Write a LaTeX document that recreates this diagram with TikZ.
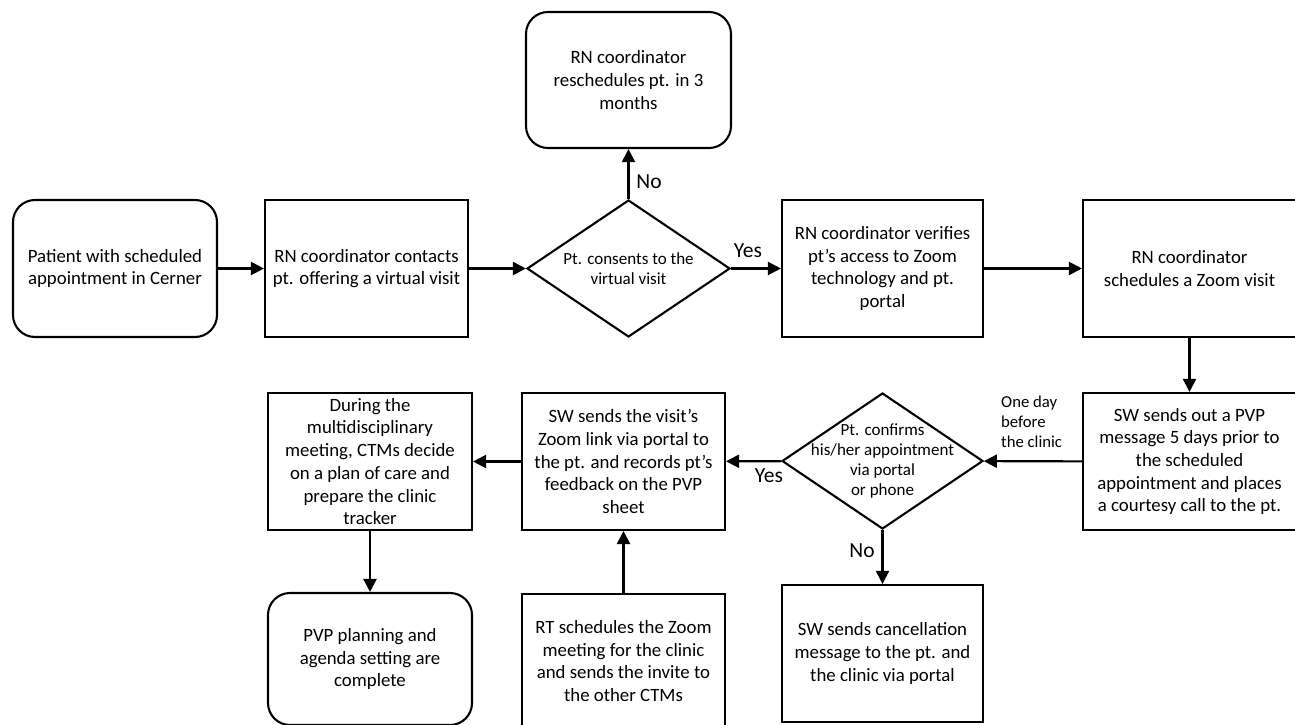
\documentclass[tikz,border=0pt]{standalone}
\usepackage{fontspec}
\setmainfont{Carlito}
\usetikzlibrary{shapes.geometric,arrows.meta}
\begin{document}
\begin{tikzpicture}[x=1pt,y=-1pt,
  every node/.style={inner sep=2pt},
  box/.style={draw, line width=2.1pt, align=center, font=\fontsize{18.8}{22.7}\selectfont},
  rbox/.style={box, rounded corners=22pt},
  dia/.style={draw, diamond, line width=2.1pt, inner sep=0pt, minimum width=203pt, minimum height=137pt},
  dtext/.style={align=center, font=\fontsize{17}{20.3}\selectfont},
  lbl/.style={font=\fontsize{21.5}{24}\selectfont},
  small/.style={align=left, font=\fontsize{16.7}{20}\selectfont},
  arr/.style={line width=2.1pt, -{Triangle[length=13pt,width=13pt]}}
]
\useasboundingbox (0,0) rectangle (1295,725);

\node[rbox, minimum width=204pt, minimum height=137pt] (start) at (115,268.5)
  {Patient with scheduled\\appointment in Cerner};
\node[box, minimum width=203pt, minimum height=137pt] (contact) at (366.5,268.5)
  {RN coordinator contacts\\pt. offering a virtual visit};
\node[dia] (d1) at (628.5,268.5) {};
\node[dtext] (d1t) at (628.5,268.5) {Pt. consents to the\\virtual visit};
\node[rbox, minimum width=205pt, minimum height=136pt] (resched) at (628.5,80)
  {RN coordinator\\reschedules pt. in 3\\months};
\node[box, minimum width=201pt, minimum height=137pt] (verify) at (882.5,268.5)
  {RN coordinator verifies\\pt’s access to Zoom\\technology and pt.\\portal};
\node[box, minimum width=213pt, minimum height=137pt] (zoomvisit) at (1189.5,268.5)
  {RN coordinator\\schedules a Zoom visit};
\node[box, minimum width=213pt, minimum height=137pt] (pvpmsg) at (1189.5,461.5)
  {SW sends out a PVP\\message 5 days prior to\\the scheduled\\appointment and places\\a courtesy call to the pt.};
\node[dia, minimum width=201pt, minimum height=136pt] (d2) at (882.5,461) {};
\node[dtext] (d2t) at (882.5,461) {Pt. confirms\\his/her appointment\\via portal\\or phone};
\node[box, minimum width=201pt, minimum height=137pt] (cancel) at (882.5,653.5)
  {SW sends cancellation\\message to the pt. and\\the clinic via portal};
\node[box, minimum width=203pt, minimum height=137pt] (swlink) at (623.5,461.5)
  {SW sends the visit’s\\Zoom link via portal to\\the pt. and records pt’s\\feedback on the PVP\\sheet};
\node[box, inner sep=1pt, minimum width=204pt, minimum height=137pt] (during) at (370,461.5)
  {During the\\multidisciplinary\\meeting, CTMs decide\\on a plan of care and\\prepare the clinic\\tracker};
\node[rbox, minimum width=204pt, minimum height=132pt] (done) at (370,659)
  {PVP planning and\\agenda setting are\\complete};
\node[box, minimum width=203pt, minimum height=134pt] (rt) at (623.5,661)
  {RT schedules the Zoom\\meeting for the clinic\\and sends the invite to\\the other CTMs};

\draw[arr] (start) -- (contact);
\draw[arr] (contact) -- (d1);
\draw[arr] (d1) -- (resched);
\draw[arr] (d1) -- (verify);
\draw[arr] (verify) -- (zoomvisit);
\draw[arr] (zoomvisit) -- (pvpmsg);
\draw[arr] (pvpmsg) -- (d2);
\draw[arr] (d2) -- (swlink);
\draw[arr] (d2) -- (cancel);
\draw[arr] (swlink) -- (during);
\draw[arr] (during) -- (done);
\draw[arr] (rt) -- (swlink);

\node[lbl] (no1) at (649,182) {No};
\node[lbl] (yes1) at (748,251) {Yes};
\node[lbl] (yes2) at (769,476) {Yes};
\node[lbl] (no2) at (862,551) {No};
\node[small, anchor=west] (oneday) at (999,422) {One day\\before\\the clinic};
\end{tikzpicture}
\end{document}
